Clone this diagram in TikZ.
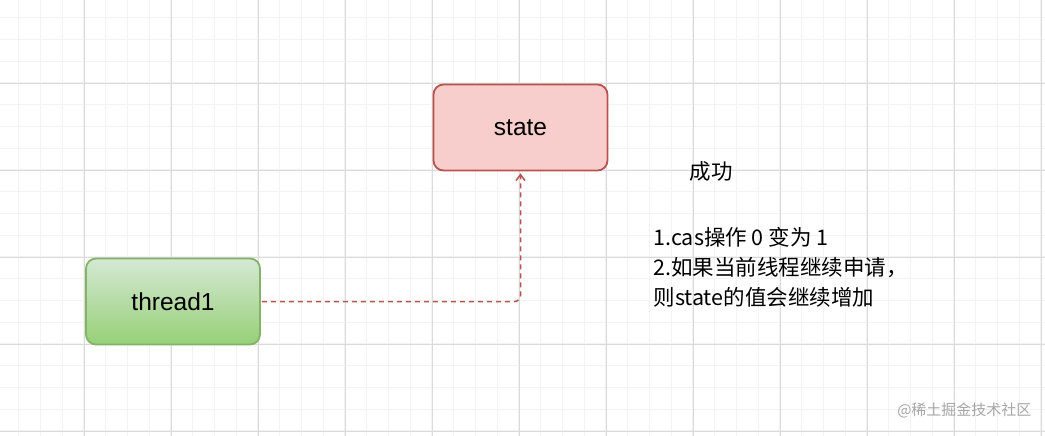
\documentclass[tikz,border=0pt]{standalone}
\usepackage{fontspec}
\setmainfont{Liberation Sans}
\newfontfamily\cjk{Noto Sans CJK SC}
\usepackage{tikz}
\usetikzlibrary{positioning, arrows.meta}
\definecolor{gridMinor}{RGB}{243, 243, 243}
\definecolor{gridMajor}{RGB}{218, 218, 218}
\definecolor{stRed}{RGB}{248, 206, 204}
\definecolor{stRedLine}{RGB}{184, 84, 80}
\definecolor{thGreenTop}{RGB}{213, 232, 212}
\definecolor{thGreenBot}{RGB}{151, 208, 119}
\definecolor{thGreenLine}{RGB}{130, 179, 102}
\tikzset{
    base/.style={
        font=\fontsize{24.5}{30}\selectfont,
        align=center
    },
    box/.style={
        base,
        rectangle,
        rounded corners=10pt,
        minimum width=174pt,
        minimum height=86pt,
        line width=1.8pt
    },
    statebox/.style={
        box,
        draw=stRedLine,
        fill=stRed
    },
    threadbox/.style={
        box,
        draw=thGreenLine,
        top color=thGreenTop,
        bottom color=thGreenBot
    },
    flow/.style={
        -{Straight Barb[length=6pt, width=9pt]},
        dash pattern=on 5pt off 4pt,
        line width=1.5pt,
        rounded corners=6pt,
        color=stRedLine,
        shorten <=1pt,
        shorten >=2pt
    },
    note/.style={
        align=left,
        font=\cjk\fontsize{21.5}{30}\selectfont
    }
}
\begin{document}
\begin{tikzpicture}[x=1pt, y=-1pt]
    \useasboundingbox (0,0) rectangle (1045,436);
    % Grid
    \foreach \x in {-3,18.75,...,1045} \draw[gridMinor, line width=1.2pt] (\x,0) -- (\x,436);
    \foreach \y in {17.75,39.5,...,436} \draw[gridMinor, line width=1.2pt] (0,\y) -- (1045,\y);
    \foreach \x in {84,171,...,1045} \draw[gridMajor] (\x,0) -- (\x,436);
    \foreach \y in {-4,83,...,436} \draw[gridMajor] (0,\y) -- (1045,\y);

    % Nodes
    \node[statebox] (state) at (520.5,127.5) {state};
    \node[threadbox] (thread) at (173,301.5) {thread1};
    \coordinate (bend) at (state.south |- thread.east);
    \draw[flow] (thread.east) -- (bend) -- (state.south);

    % Notes
    \node[note] (ok) at (711,171) {成功};
    \node[note, anchor=north west] (steps) at (650,224) {1.cas操作 0 变为 1\\2.如果当前线程继续申请，\\则state的值会继续增加};
    \node[font=\cjk\fontsize{15}{18}\selectfont, text=gray!70, anchor=east] (mark) at (1035,410) {@稀土掘金技术社区};
\end{tikzpicture}
\end{document}
